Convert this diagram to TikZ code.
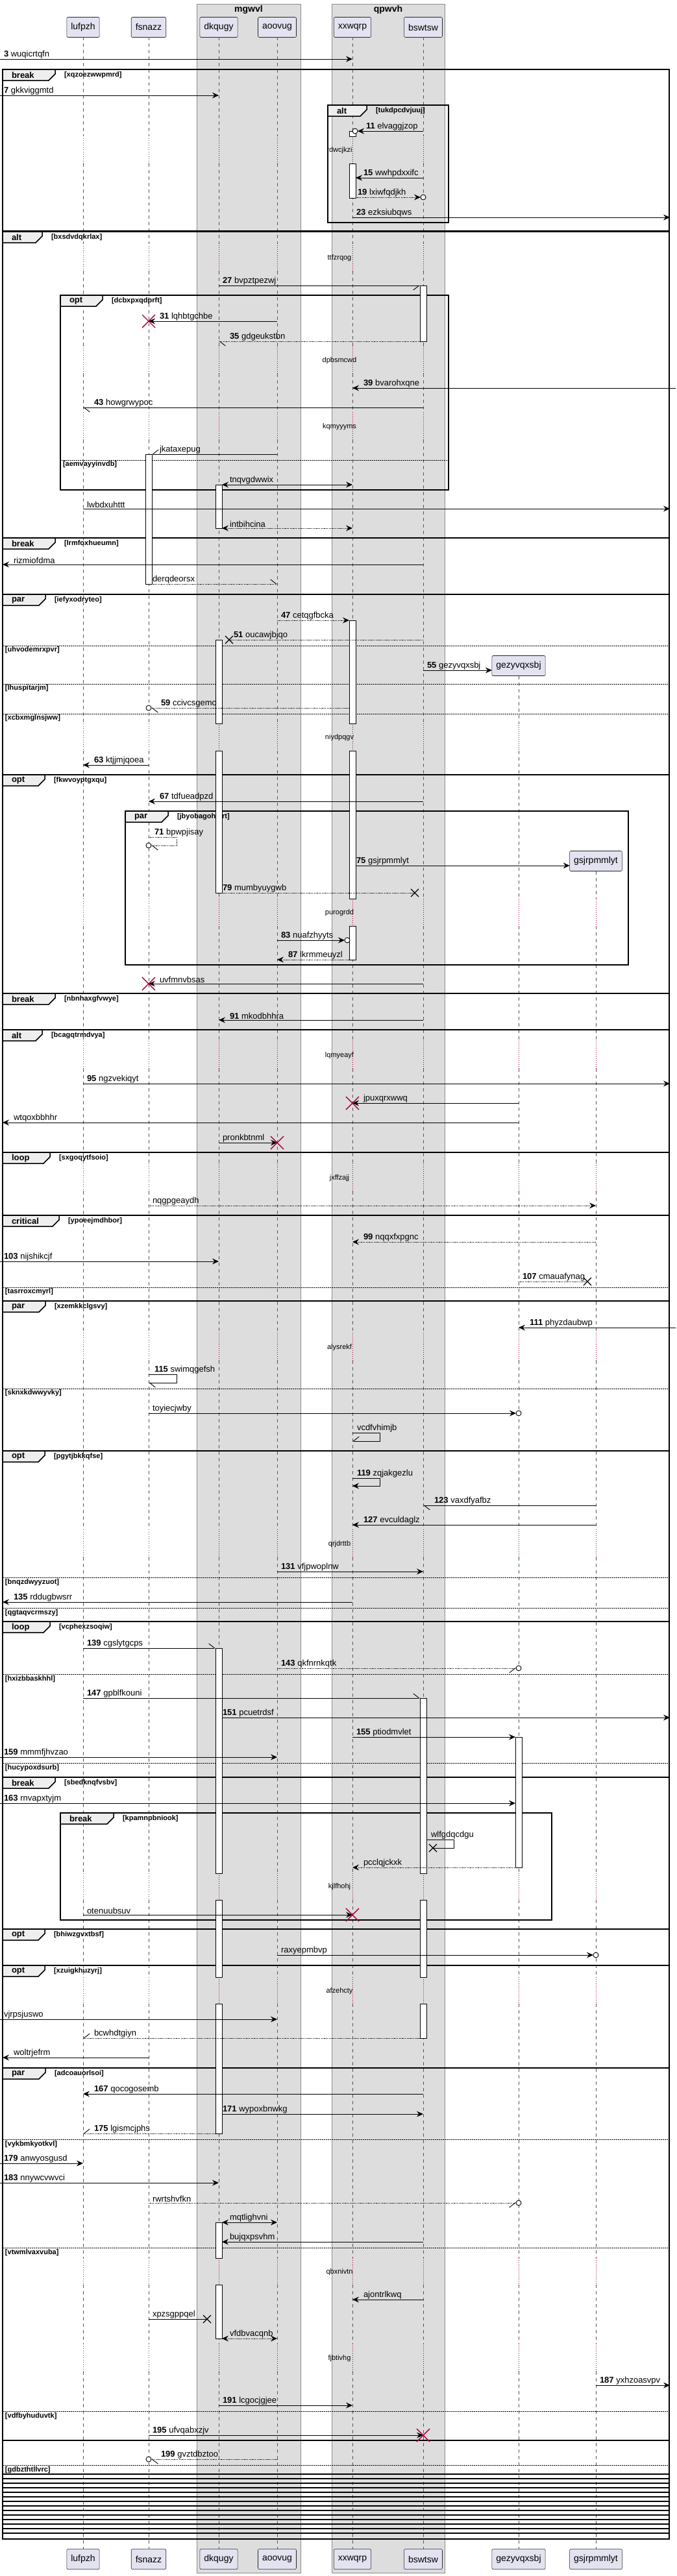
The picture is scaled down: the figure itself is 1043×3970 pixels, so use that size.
\documentclass[tikz,border=0pt]{standalone}
\usepackage{fontspec}
\setmainfont{Liberation Sans}
\usepackage{xcolor}
\usetikzlibrary{arrows.meta,shapes.misc}
\definecolor{grpfill}{HTML}{DDDDDD}
\definecolor{partfill}{HTML}{E2E2F0}
\definecolor{tabfill}{HTML}{EEEEEE}
\definecolor{killred}{HTML}{A80036}
\definecolor{lifegray}{HTML}{555555}

\newcommand{\msgR}[5][]{\draw[msg,#1] (#2 |- 0,#4) -- (#3 |- 0,#4) node[mlbl,pos=0,xshift=5pt] {#5};}
\newcommand{\msgL}[5][]{\draw[msg,#1] (#2 |- 0,#4) -- (#3 |- 0,#4) node[mlbl,pos=0,xshift=16pt] {#5};}
\newcommand{\fragtab}[5]{%
  \draw[tabshape] (#1,#2) -- ++(#3,0) -- ++(0,7) -- ++(-10,10) -- (#1,#2+17) -- cycle;
  \node[tabtxt] at (#1+14,#2+9) {#4};
  \node[guard] at (#1+#3+14,#2+9) {[#5]};}
\newcommand{\elsesep}[4]{%
  \draw[elseline] (#1,#3) -- (#2,#3);
  \node[guard,anchor=north west] at (#1+4,#3+2) {[#4]};}

\begin{document}
\begin{tikzpicture}[x=1pt,y=-1pt,
  every node/.style={inner sep=0pt,outer sep=0pt},
  fhead/.tip={Stealth[length=10pt,width=9pt,inset=3.5pt]},
  bhalf/.tip={Straight Barb[harpoon,length=9pt,width=14pt]},
  bhalfs/.tip={Straight Barb[harpoon,swap,length=9pt,width=14pt]},
  part/.style={draw=black!85,fill=partfill,rounded corners=2pt,line width=0.6pt,
    minimum height=31pt,inner xsep=6.5pt,font=\fontsize{14}{16}\selectfont},
  grp/.style={fill=grpfill,draw=black!45,line width=0.5pt},
  grptitle/.style={font=\bfseries\fontsize{14}{16}\selectfont},
  lifeline/.style={draw=lifegray,line width=0.5pt,dash pattern=on 5pt off 5pt},
  idle/.style={draw=killred,line width=0.6pt,dash pattern=on 1pt off 2pt},
  idlegray/.style={draw=lifegray,line width=0.5pt,dash pattern=on 1pt off 2.5pt},
  actbar/.style={draw=black,fill=white,line width=0.7pt},
  msg/.style={line width=0.9pt},
  dotline/.style={dash pattern=on 1.2pt off 1.2pt},
  toR/.style={-{fhead}}, toL/.style={{fhead}-}, toLR/.style={{fhead}-{fhead}},
  toRu/.style={-{bhalf}}, toRd/.style={-{bhalfs}},
  toLd/.style={{bhalf}-}, toLu/.style={{bhalfs}-},
  mlbl/.style={anchor=south west,inner sep=1pt,font=\fontsize{13}{15}\selectfont},
  dlbl/.style={font=\fontsize{11}{13}\selectfont},
  fragbox/.style={draw=black,line width=1.5pt},
  tabshape/.style={draw=black,fill=tabfill,line width=1.5pt},
  tabtxt/.style={anchor=west,font=\bfseries\fontsize{13}{15}\selectfont},
  guard/.style={anchor=west,font=\bfseries\fontsize{11}{13}\selectfont},
  elseline/.style={draw=black,line width=0.9pt,dash pattern=on 1.5pt off 1.5pt},
  ocirc/.style={circle,draw=black,line width=0.9pt,fill=white,minimum size=8pt},
  kill/.style={cross out,draw=killred,line width=1.4pt,minimum size=20pt},
  lost/.style={cross out,draw=black,line width=1.3pt,minimum size=12pt}]

  \fill[white] (0,0) rectangle (1043,3970);
  \useasboundingbox (0,0) rectangle (1043,3970);
  \coordinate (outl) at (0,0);
  \coordinate (outr) at (1041,0);
  \coordinate (edgel) at (4,0);
  \coordinate (edger) at (1032,0);

  \draw[grp] (303,6) rectangle (463,3965);
  \draw[grp] (511,6) rectangle (685,3965);
  \node[grptitle] (mgwvl) at (383,15) {mgwvl};
  \node[grptitle] (qpwvh) at (598,15) {qpwvh};

  \node[part] (lufpzh) at (128,42) {lufpzh};
  \node[part] (fsnazz) at (229,42) {fsnazz};
  \node[part] (dkqugy) at (337,42) {dkqugy};
  \node[part] (aoovug) at (427,42) {aoovug};
  \node[part] (xxwqrp) at (543,42) {xxwqrp};
  \node[part] (bswtsw) at (652,42) {bswtsw};
  \node[part] (gezyvqxsbj) at (799,1026) {gezyvqxsbj};
  \node[part] (gsjrpmmlyt) at (918,1327) {gsjrpmmlyt};

  \foreach \p in {lufpzh,fsnazz,dkqugy,aoovug,xxwqrp,bswtsw}
    \foreach \a/\b in {57/209,252/375,418/533,576/635,678/1115,1157/1385,1427/1604,1647/1793,1836/2054,2097/2357,2400/2887,2928/3047,3088/3480,3521/3612,3655/3928}
      \draw[lifeline] (\p |- 0,\a) -- (\p |- 0,\b);
  \foreach \a/\b in {1042/1115,1157/1385,1427/1604,1647/1793,1836/2054,2097/2357,2400/2887,2928/3047,3088/3480,3521/3612,3655/3928}
    \draw[lifeline] (gezyvqxsbj |- 0,\a) -- (gezyvqxsbj |- 0,\b);
  \foreach \a/\b in {1343/1385,1427/1604,1647/1793,1836/2054,2097/2357,2400/2887,2928/3047,3088/3480,3521/3612,3655/3928}
    \draw[lifeline] (gsjrpmmlyt |- 0,\a) -- (gsjrpmmlyt |- 0,\b);
  \foreach \a/\b in {209/252,375/418,533/576,635/678,1115/1157,1385/1427,1604/1647,1793/1836,2054/2097,2357/2400,2887/2928,3047/3088,3480/3521,3612/3655} {
    \foreach \p in {lufpzh,fsnazz} \draw[idlegray] (\p |- 0,\a) -- (\p |- 0,\b);
    \foreach \p in {dkqugy,aoovug,xxwqrp,bswtsw} \draw[idle] (\p |- 0,\a) -- (\p |- 0,\b);
  }
  \foreach \a/\b in {1115/1157,1385/1427,1604/1647,1793/1836,2054/2097,2357/2400,2887/2928,3047/3088,3480/3521,3612/3655}
    \draw[idle] (gezyvqxsbj |- 0,\a) -- (gezyvqxsbj |- 0,\b);
  \foreach \a/\b in {1385/1427,1604/1647,1793/1836,2054/2097,2357/2400,2887/2928,3047/3088,3480/3521,3612/3655}
    \draw[idle] (gsjrpmmlyt |- 0,\a) -- (gsjrpmmlyt |- 0,\b);

  \node[part] (lufpzh-b) at (128,3944) {lufpzh};
  \node[part] (fsnazz-b) at (229,3944) {fsnazz};
  \node[part] (dkqugy-b) at (337,3944) {dkqugy};
  \node[part] (aoovug-b) at (427,3944) {aoovug};
  \node[part] (xxwqrp-b) at (543,3944) {xxwqrp};
  \node[part] (bswtsw-b) at (652,3944) {bswtsw};
  \node[part] (gezyvqxsbj-b) at (799,3944) {gezyvqxsbj};
  \node[part] (gsjrpmmlyt-b) at (918,3944) {gsjrpmmlyt};

  \draw[fragbox] (4,107) rectangle (1031,356);
  \fragtab{4}{107}{81}{break}{xqzoezwwpmrd}
  \draw[fragbox] (505,162) rectangle (691,343);
  \fragtab{505}{162}{60}{alt}{tukdpcdvjuuj}
  \draw[fragbox] (4,357) rectangle (1031,829);
  \fragtab{4}{357}{61}{alt}{bxsdvdqkrlax}
  \draw[fragbox] (93,455) rectangle (691,755);
  \fragtab{93}{455}{65}{opt}{dcbxpxqdprft}
  \elsesep{93}{691}{709}{aemvayyinvdb}
  \draw[fragbox] (4,829) rectangle (1031,916);
  \fragtab{4}{829}{81}{break}{lrmfoxhueumn}
  \draw[fragbox] (4,916) rectangle (1031,1194);
  \fragtab{4}{916}{66}{par}{iefyxodryteo}
  \elsesep{4}{1031}{995}{uhvodemrxpvr}
  \elsesep{4}{1031}{1054}{lhuspitarjm}
  \elsesep{4}{1031}{1100}{xcbxmglnsjww}
  \draw[fragbox] (4,1194) rectangle (1031,1531);
  \fragtab{4}{1194}{65}{opt}{fkwvoyptgxqu}
  \draw[fragbox] (193,1250) rectangle (968,1487);
  \fragtab{193}{1250}{66}{par}{jbyobagohmrt}
  \draw[fragbox] (4,1531) rectangle (1031,1587);
  \fragtab{4}{1531}{81}{break}{nbnhaxgfvwye}
  \draw[fragbox] (4,1587) rectangle (1031,1776);
  \fragtab{4}{1587}{61}{alt}{bcagqtrmdvya}
  \draw[fragbox] (4,1776) rectangle (1031,1873);
  \fragtab{4}{1776}{73}{loop}{sxgoqytfsoio}
  \draw[fragbox] (4,1873) rectangle (1031,2005);
  \fragtab{4}{1873}{87}{critical}{ypoeejmdhbor}
  \elsesep{4}{1031}{1984}{tasrroxcmyrl}
  \draw[fragbox] (4,2005) rectangle (1031,2236);
  \fragtab{4}{2005}{66}{par}{xzemkkclgsvy}
  \elsesep{4}{1031}{2140}{sknxkdwwyvky}
  \draw[fragbox] (4,2236) rectangle (1031,2499);
  \fragtab{4}{2236}{65}{opt}{pgytjbkkqfse}
  \elsesep{4}{1031}{2431}{bnqzdwyyzuot}
  \elsesep{4}{1031}{2478}{qgtaqvcrmszy}
  \draw[fragbox] (4,2499) rectangle (1031,2739);
  \fragtab{4}{2499}{73}{loop}{vcphexzsoqiw}
  \elsesep{4}{1031}{2580}{hxizbbaskhhl}
  \elsesep{4}{1031}{2717}{hucypoxdsurb}
  \draw[fragbox] (4,2739) rectangle (1031,2973);
  \fragtab{4}{2739}{81}{break}{sbedknqfvsbv}
  \draw[fragbox] (93,2794) rectangle (850,2959);
  \fragtab{93}{2794}{82}{break}{kpamnpbniook}
  \draw[fragbox] (4,2973) rectangle (1031,3029);
  \fragtab{4}{2973}{65}{opt}{bhiwzgvxtbsf}
  \draw[fragbox] (4,3029) rectangle (1031,3187);
  \fragtab{4}{3029}{65}{opt}{xzuigkhuzyrj}
  \draw[fragbox] (4,3187) rectangle (1031,3761);
  \fragtab{4}{3187}{66}{par}{adcoauorlsoi}
  \elsesep{4}{1031}{3297}{vykbmkyotkvl}
  \elsesep{4}{1031}{3464}{vtwmlvaxvuba}
  \elsesep{4}{1031}{3716}{vdfbyhuduvtk}
  \draw[fragbox] (4,3761) rectangle (1031,3913);
  \elsesep{4}{1031}{3799}{gdbzthtllvrc}
  \foreach \k in {0,...,13} \draw[fragbox,line width=2pt] (4,3813+7*\k) -- (1031,3813+7*\k);

  \foreach \p/\a/\b in {xxwqrp/202/210,xxwqrp/252/305,bswtsw/440/526,fsnazz/700/900,dkqugy/747/814,xxwqrp/956/1115,xxwqrp/1157/1385,dkqugy/986/1115,dkqugy/1157/1376,xxwqrp/1427/1479,gezyvqxsbj/2677/2878,dkqugy/2540/2887,dkqugy/2928/3047,dkqugy/3088/3288,bswtsw/2617/2887,bswtsw/2928/3047,bswtsw/3088/3141,dkqugy/3425/3480,dkqugy/3521/3604}
    \draw[actbar] (\p |- 0,\a) ++(-5,0) rectangle ++(10,\b-\a);

  \foreach \t/\y in {rdwcjkzi/232,ttfzrqog/398,dpbsmcwd/556,kqmyyyms/658,niydpqgv/1137,purogrdd/1407,lqmyeayf/1627,jxffzajj/1816,alysrekf/2077,qrjdrttb/2380,kjlfhohj/2908,afzehcty/3069,qbxnivtn/3502,fjbtivhg/3635}
    \node[dlbl] (delay-\y) at (523,\y) {\t};

  \msgR[toR]{outl}{xxwqrp}{91}{\textbf{3} wuqicrtqfn}
  \msgR[toR]{outl}{dkqugy}{147}{\textbf{7} gkkviggmtd}
  \path (xxwqrp |- 0,202) ++(4,0) node[ocirc] (c11) {};
  \draw[msg,toL] (c11) -- (bswtsw |- 0,202) node[mlbl,pos=0,xshift=12pt] {\textbf{11} elvaggjzop};
  \msgL[toL,shorten <=5pt]{xxwqrp}{bswtsw}{274}{\textbf{15} wwhpdxxifc}
  \path (bswtsw |- 0,304) node[ocirc] (c19) {};
  \draw[msg,dotline,toR,shorten <=5pt] (xxwqrp |- 0,304) -- (c19) node[mlbl,pos=0,xshift=7pt] {\textbf{19} lxiwfqdjkh};
  \msgR[toR]{xxwqrp}{edger}{335}{\textbf{23} ezksiubqws}

  \msgR[toRd,shorten >=5pt]{dkqugy}{bswtsw}{440}{\textbf{27} bvpztpezwj}
  \msgL[toL]{fsnazz}{aoovug}{495}{\textbf{31} lqhbtgchbe}
  \node[kill] (k31) at (fsnazz |- 0,495) {};
  \msgL[dotline,toLd,shorten >=5pt]{dkqugy}{bswtsw}{526}{\textbf{35} gdgeukstbn}
  \msgL[toL]{xxwqrp}{outr}{598}{\textbf{39} bvarohxqne}
  \msgL[toLd]{lufpzh}{bswtsw}{628}{\textbf{43} howgrwypoc}
  \msgL[toLu,shorten <=5pt]{fsnazz}{aoovug}{700}{jkataxepug}
  \msgL[toLR,shorten <=5pt]{dkqugy}{xxwqrp}{747}{tnqvgdwwix}
  \msgR[toR]{lufpzh}{edger}{784}{lwbdxuhttt}
  \msgL[dotline,toLR,shorten <=5pt]{dkqugy}{xxwqrp}{814}{intbihcina}

  \msgL[toL]{edgel}{bswtsw}{870}{rizmiofdma}
  \msgR[dotline,toRu,shorten <=5pt]{fsnazz}{aoovug}{900}{derqdeorsx}

  \msgR[dotline,toR,shorten >=5pt]{aoovug}{xxwqrp}{956}{\textbf{47} cetqgfbcka}
  \path (dkqugy |- 0,986) ++(16,0) node[lost] (x51) {};
  \draw[msg,dotline] (x51.center) -- (bswtsw |- 0,986) node[mlbl,pos=0,xshift=6pt] {\textbf{51} oucawjbjqo};
  \msgR[toR]{bswtsw}{gezyvqxsbj.west}{1033}{\textbf{55} gezyvqxsbj}
  \path (fsnazz |- 0,1091) node[ocirc] (c59) {};
  \draw[msg,dotline,toLd,shorten >=5pt] (c59) -- (xxwqrp |- 0,1091) node[mlbl,pos=0,xshift=14pt] {\textbf{59} ccivcsgemo};
  \msgL[toL]{lufpzh}{fsnazz}{1179}{\textbf{63} ktjjmjqoea}

  \msgL[toL]{fsnazz}{bswtsw}{1235}{\textbf{67} tdfueadpzd}
  \path (fsnazz |- 0,1303) node[ocirc] (c71) {};
  \draw[msg,dotline,-{bhalf}] (fsnazz |- 0,1290) -- ++(43,0) -- ++(0,13) -- (c71);
  \path (fsnazz |- 0,1290) ++(8,0) node[mlbl] (l71) {\textbf{71} bpwpjisay};
  \msgR[toR,shorten <=5pt]{xxwqrp}{gsjrpmmlyt.west}{1334}{\textbf{75} gsjrpmmlyt}
  \path (bswtsw |- 0,1376) ++(-13,0) node[lost] (x79) {};
  \msgR[dotline,shorten <=5pt]{dkqugy}{x79}{1376}{\textbf{79} mumbyuygwb}
  \path (xxwqrp |- 0,1449) ++(-8,0) node[ocirc] (c83) {};
  \msgR[toR]{aoovug}{c83.west}{1449}{\textbf{83} nuafzhyyts}
  \msgL[dotline,toL,shorten >=5pt]{aoovug}{xxwqrp}{1479}{\textbf{87} lkrmmeuyzl}
  \msgL[toL]{fsnazz}{bswtsw}{1516}{uvfmnvbsas}
  \node[kill] (k89) at (fsnazz |- 0,1516) {};

  \msgL[toL]{dkqugy}{bswtsw}{1572}{\textbf{91} mkodbhhra}

  \msgR[toR]{lufpzh}{edger}{1670}{\textbf{95} ngzvekiqyt}
  \msgL[toL]{xxwqrp}{gezyvqxsbj}{1700}{jpuxqrxwwq}
  \node[kill] (k96) at (xxwqrp |- 0,1700) {};
  \msgL[toL]{edgel}{gezyvqxsbj}{1730}{wtqoxbbhhr}
  \msgR[toR]{dkqugy}{aoovug}{1761}{pronkbtnml}
  \node[kill] (k98) at (aoovug |- 0,1761) {};

  \msgR[dotline,toR]{fsnazz}{gsjrpmmlyt}{1858}{nqgpgeaydh}

  \msgL[dotline,toL]{xxwqrp}{gsjrpmmlyt}{1914}{\textbf{99} nqqxfxpgnc}
  \msgR[toR]{outl}{dkqugy}{1944}{\textbf{103} nijshikcjf}
  \path (gsjrpmmlyt |- 0,1975) ++(-13,0) node[lost] (x107) {};
  \msgR[dotline]{gezyvqxsbj}{x107}{1975}{\textbf{107} cmauafynag}

  \msgL[toL]{gezyvqxsbj}{outr}{2046}{\textbf{111} phyzdaubwp}
  \draw[msg,-{bhalf}] (fsnazz |- 0,2118) -- ++(43,0) -- ++(0,13) -- (fsnazz |- 0,2131);
  \path (fsnazz |- 0,2118) ++(8,0) node[mlbl] (l115) {\textbf{115} swimqgefsh};
  \path (gezyvqxsbj |- 0,2178) node[ocirc] (c116) {};
  \msgR[toR]{fsnazz}{c116.west}{2178}{toyiecjwby}
  \draw[msg,-{bhalfs}] (xxwqrp |- 0,2208) -- ++(42,0) -- ++(0,13) -- (xxwqrp |- 0,2221);
  \path (xxwqrp |- 0,2208) ++(6,0) node[mlbl] (l117) {vcdfvhimjb};

  \draw[msg,-{fhead}] (xxwqrp |- 0,2278) -- ++(42,0) -- ++(0,12) -- (xxwqrp |- 0,2290);
  \path (xxwqrp |- 0,2278) ++(6,0) node[mlbl] (l119) {\textbf{119} zqjakgezlu};
  \msgL[toLd]{bswtsw}{gsjrpmmlyt}{2320}{\textbf{123} vaxdfyafbz}
  \msgL[toL]{xxwqrp}{gsjrpmmlyt}{2350}{\textbf{127} evculdaglz}
  \msgR[toR]{aoovug}{bswtsw}{2422}{\textbf{131} vfjpwoplnw}
  \msgL[toL]{edgel}{xxwqrp}{2469}{\textbf{135} rddugbwsrr}

  \msgR[toRu,shorten >=5pt]{lufpzh}{dkqugy}{2540}{\textbf{139} cgslytgcps}
  \path (gezyvqxsbj |- 0,2571) node[ocirc] (c143) {};
  \msgR[dotline,toRd]{aoovug}{c143.west}{2571}{\textbf{143} qkfnrnkqtk}
  \msgR[toRu,shorten >=5pt]{lufpzh}{bswtsw}{2617}{\textbf{147} gpblfkouni}
  \msgR[toR,shorten <=5pt]{dkqugy}{edger}{2647}{\textbf{151} pcuetrdsf}
  \msgR[toR,shorten >=5pt]{xxwqrp}{gezyvqxsbj}{2677}{\textbf{155} ptiodmvlet}
  \msgR[toR]{outl}{aoovug}{2708}{\textbf{159} mmmfjhvzao}

  \msgR[toR,shorten >=5pt]{outl}{gezyvqxsbj}{2779}{\textbf{163} rnvapxtyjm}
  \path (bswtsw |- 0,2848) ++(15,0) node[lost] (x164) {};
  \draw[msg] (bswtsw |- 0,2835) ++(5,0) -- ++(42,0) -- ++(0,13) -- (x164.center);
  \path (bswtsw |- 0,2835) ++(11,0) node[mlbl] (l164) {wlfgdqcdgu};
  \msgL[dotline,toL,shorten >=5pt]{xxwqrp}{gezyvqxsbj}{2878}{pcclqjckxk}
  \msgR[toR]{lufpzh}{xxwqrp}{2951}{otenuubsuv}
  \node[kill] (k166) at (xxwqrp |- 0,2951) {};

  \path (gsjrpmmlyt |- 0,3013) node[ocirc] (c167) {};
  \msgR[toR]{aoovug}{c167.west}{3013}{raxyepmbvp}

  \msgR[toR]{outl}{aoovug}{3112}{vjrpsjuswo}
  \msgL[dotline,toLu,shorten >=5pt]{lufpzh}{bswtsw}{3141}{bcwhdtgiyn}
  \msgL[toL]{edgel}{fsnazz}{3171}{woltrjefrm}

  \msgL[toL]{lufpzh}{bswtsw}{3227}{\textbf{167} qocogosemb}
  \msgR[toR,shorten <=5pt]{dkqugy}{bswtsw}{3258}{\textbf{171} wypoxbnwkg}
  \msgL[dotline,toLu,shorten >=5pt]{lufpzh}{dkqugy}{3288}{\textbf{175} lgismcjphs}
  \msgR[toR]{outl}{lufpzh}{3334}{\textbf{179} anwyosgusd}
  \msgR[toR]{outl}{dkqugy}{3364}{\textbf{183} nnywcvwvci}
  \path (gezyvqxsbj |- 0,3395) node[ocirc] (c184) {};
  \msgR[dotline,toRd]{fsnazz}{c184.west}{3395}{rwrtshvfkn}
  \msgL[toLR,shorten <=5pt]{dkqugy}{aoovug}{3425}{mqtlighvni}
  \msgL[toL,shorten <=5pt]{dkqugy}{bswtsw}{3455}{bujqxpsvhm}
  \msgL[toL]{xxwqrp}{bswtsw}{3544}{ajontrlkwq}
  \path (dkqugy |- 0,3574) ++(-18,0) node[lost] (x185) {};
  \msgR{fsnazz}{x185}{3574}{xpzsgppqel}
  \msgL[dotline,toLR,shorten <=5pt]{dkqugy}{aoovug}{3604}{vfdbvacqnb}
  \msgR[toR]{gsjrpmmlyt}{edger}{3676}{\textbf{187} yxhzoasvpv}
  \msgR[toR]{dkqugy}{xxwqrp}{3707}{\textbf{191} lcgocjgjee}
  \msgR[toR]{fsnazz}{bswtsw}{3753}{\textbf{195} ufvqabxzjv}
  \node[kill] (k195) at (bswtsw |- 0,3753) {};
  \path (fsnazz |- 0,3790) node[ocirc] (c199) {};
  \draw[msg,dotline,toLd] (c199) -- (aoovug |- 0,3790) node[mlbl,pos=0,xshift=14pt] {\textbf{199} gvztdbztoo};
\end{tikzpicture}
\end{document}
